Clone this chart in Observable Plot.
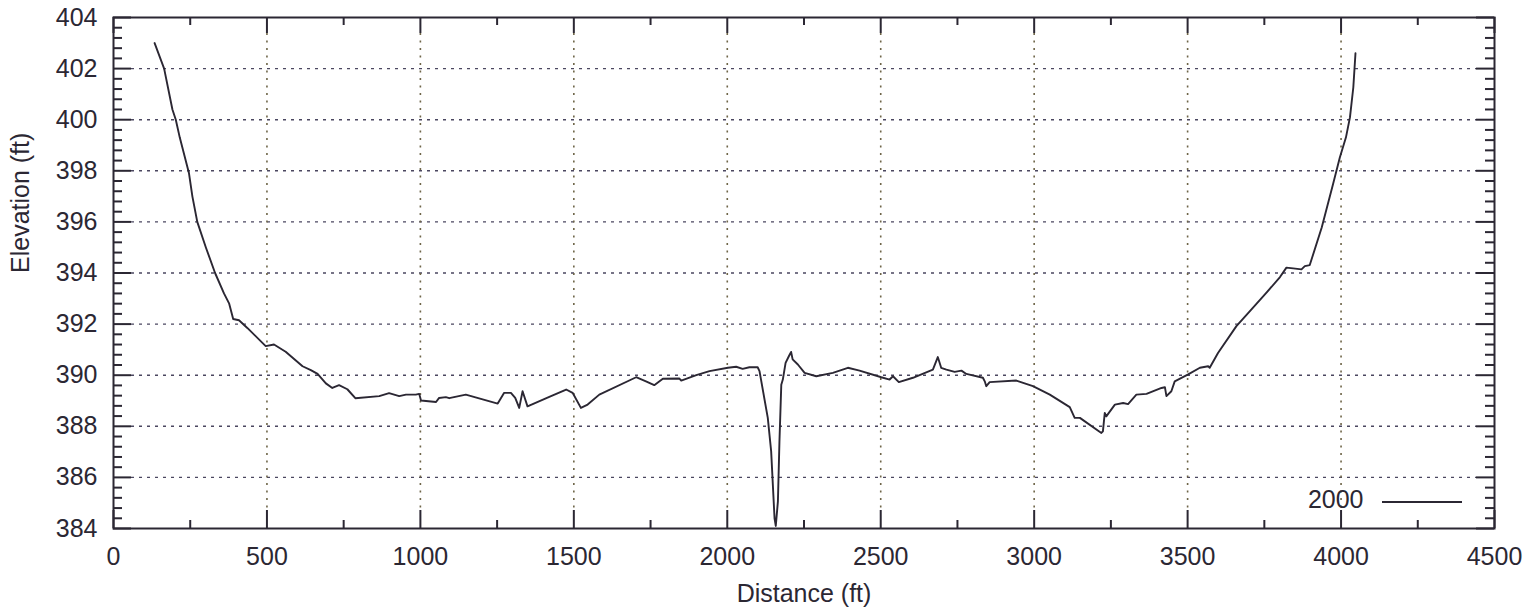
<!DOCTYPE html>
<html>
<head>
<meta charset="utf-8">
<script src="https://cdn.jsdelivr.net/npm/d3@7"></script>
<script src="https://cdn.jsdelivr.net/npm/@observablehq/plot@0.6"></script>
<style>
  html, body { margin: 0; padding: 0; background: #ffffff; }
  #chart { width: 1534px; height: 616px; }
</style>
</head>
<body>
<div id="chart"></div>
<script>
// Cross-section profile, year 2000
const distance = [134, 165, 192, 203, 216, 246, 257, 273, 301, 331, 360, 377, 390, 409, 436, 496, 523, 561, 616, 643, 665, 692, 713, 735, 762, 788,
  866, 898, 931, 953, 985, 996, 1002, 1051, 1061, 1083, 1094, 1148, 1252, 1273, 1295, 1309, 1322, 1333, 1349, 1420, 1475, 1496, 1523, 1545, 1583,
  1703, 1735, 1762, 1790, 1844, 1850, 1899, 1942, 2002, 2029, 2050, 2072, 2099, 2105, 2132, 2143, 2154, 2158, 2165, 2170, 2176, 2181, 2190, 2201, 2208,
  2213, 2230, 2252, 2290, 2344, 2393, 2431, 2502, 2529, 2540, 2559, 2605, 2670, 2686, 2697, 2714, 2741, 2763, 2779, 2833, 2839, 2844, 2855, 2942,
  2996, 3051, 3116, 3132, 3149, 3219, 3224, 3230, 3235, 3263, 3290, 3306, 3333, 3366, 3415, 3426, 3431, 3447, 3458, 3502, 3540, 3567, 3572, 3599,
  3659, 3703, 3757, 3801, 3822, 3844, 3871, 3882, 3898, 3937, 3974, 3996, 4016, 4029, 4040, 4047];
const elevation = [403.0, 402.0, 400.4, 400.0, 399.3, 397.9, 397.0, 396.0, 395.0, 394.0, 393.2, 392.8, 392.2, 392.15, 391.85, 391.14, 391.2, 390.92, 390.35, 390.2, 390.05, 389.68, 389.5, 389.61, 389.45, 389.1,
  389.18, 389.3, 389.18, 389.24, 389.24, 389.27, 389.01, 388.95, 389.11, 389.14, 389.1, 389.24, 388.89, 389.31, 389.31, 389.11, 388.72, 389.37, 388.78, 389.15, 389.44, 389.31, 388.72, 388.85, 389.24,
  389.92, 389.76, 389.61, 389.86, 389.87, 389.79, 390.0, 390.16, 390.29, 390.33, 390.25, 390.31, 390.31, 390.16, 388.33, 387.02, 384.4, 384.1, 385.06, 387.41, 389.63, 389.83, 390.48, 390.75, 390.91,
  390.62, 390.42, 390.09, 389.96, 390.09, 390.29, 390.18, 389.92, 389.83, 389.96, 389.73, 389.9, 390.22, 390.71, 390.29, 390.22, 390.13, 390.18, 390.05, 389.9, 389.76, 389.57, 389.73, 389.79,
  389.57, 389.24, 388.75, 388.33, 388.33, 387.74, 387.8, 388.52, 388.39, 388.85, 388.91, 388.87, 389.24, 389.27, 389.5, 389.53, 389.18, 389.37, 389.76, 390.03, 390.29, 390.35, 390.29, 390.87,
  391.92, 392.51, 393.23, 393.84, 394.21, 394.18, 394.14, 394.27, 394.31, 395.78, 397.48, 398.52, 399.31, 400.09, 401.27, 402.6];
const seriesName = "2000";

const xTicks = [0, 500, 1000, 1500, 2000, 2500, 3000, 3500, 4000, 4500];
const yTicks = [384, 386, 388, 390, 392, 394, 396, 398, 400, 402, 404];
const xGrid = [500, 1000, 1500, 2000, 2500, 3000, 3500, 4000];
const yGrid = [386, 388, 390, 392, 394, 396, 398, 400, 402];
const xMinor = [250, 750, 1250, 1750, 2250, 2750, 3250, 3750, 4250];
const yMinor = d3.range(384, 404.001, 0.4).filter(v => Math.abs(v / 2 - Math.round(v / 2)) > 1e-6);

const xLabel = "Distance (ft)";
const yLabel = "Elevation (ft)";

const profile = distance.map((d, i) => ({distance: d, elevation: elevation[i]}));

const W = 1534, H = 616;
const mL = 113, mR = 40, mT = 17, mB = 88;
const innerW = W - mL - mR, innerH = H - mT - mB;
const ink = "#2b2733";

const legendLine = (index, scales, values, dim) => {
  const svgns = "http://www.w3.org/2000/svg";
  const g = document.createElementNS(svgns, "g");
  const l = document.createElementNS(svgns, "line");
  const x2 = dim.width - dim.marginRight - 32;
  const y = dim.height - dim.marginBottom - 26;
  l.setAttribute("x1", x2 - 80);
  l.setAttribute("x2", x2);
  l.setAttribute("y1", y);
  l.setAttribute("y2", y);
  l.setAttribute("stroke", ink);
  l.setAttribute("stroke-width", 1.8);
  g.appendChild(l);
  return g;
};

const chart = Plot.plot({
  width: W,
  height: H,
  marginLeft: mL,
  marginRight: mR,
  marginTop: mT,
  marginBottom: mB,
  style: {fontFamily: "'Liberation Sans', Arial, Helvetica, sans-serif", fontSize: "25px", color: ink, background: "#ffffff"},
  x: {domain: [0, 4500], ticks: xTicks, tickSize: 0, tickPadding: 19, label: null, tickFormat: d => String(d)},
  y: {domain: [384, 404], ticks: yTicks, tickSize: 0, tickPadding: 16, label: null, tickFormat: d => String(d)},
  marks: [
    Plot.ruleY(yGrid, {stroke: "#4b4760", strokeWidth: 1.4, strokeDasharray: "3,5", insetLeft: 18, insetRight: 18}),
    Plot.ruleX(xGrid, {stroke: "#6e6548", strokeWidth: 1.6, strokeDasharray: "2,5.5", insetTop: 16, insetBottom: 18}),
    // inward ticks: bottom & top
    Plot.tickX(xTicks, {x: d => d, stroke: ink, strokeWidth: 2, insetTop: innerH - 18}),
    Plot.tickX(xMinor, {x: d => d, stroke: ink, strokeWidth: 2, insetTop: innerH - 8}),
    Plot.tickX(xTicks, {x: d => d, stroke: ink, strokeWidth: 2, insetBottom: innerH - 16}),
    Plot.tickX(xMinor, {x: d => d, stroke: ink, strokeWidth: 2, insetBottom: innerH - 8}),
    // inward ticks: left & right
    Plot.tickY(yTicks, {y: d => d, stroke: ink, strokeWidth: 2, insetRight: innerW - 18}),
    Plot.tickY(yMinor, {y: d => d, stroke: ink, strokeWidth: 2, insetRight: innerW - 9}),
    Plot.tickY(yTicks, {y: d => d, stroke: ink, strokeWidth: 2, insetLeft: innerW - 18}),
    Plot.tickY(yMinor, {y: d => d, stroke: ink, strokeWidth: 2, insetLeft: innerW - 9}),
    Plot.line(profile, {x: "distance", y: "elevation", stroke: ink, strokeWidth: 1.9}),
    Plot.frame({stroke: ink, strokeWidth: 2}),
    // legend
    Plot.text([seriesName], {frameAnchor: "bottom-right", dx: -131, dy: -21, textAnchor: "end", fill: ink, fontSize: 25}),
    legendLine,
    // axis titles
    Plot.text([xLabel], {frameAnchor: "bottom", dy: 73, fill: ink, fontSize: 25}),
    Plot.text([yLabel], {frameAnchor: "left", dx: -93, rotate: -90, fill: ink, fontSize: 25})
  ]
});

document.getElementById("chart").appendChild(chart);
</script>
</body>
</html>
